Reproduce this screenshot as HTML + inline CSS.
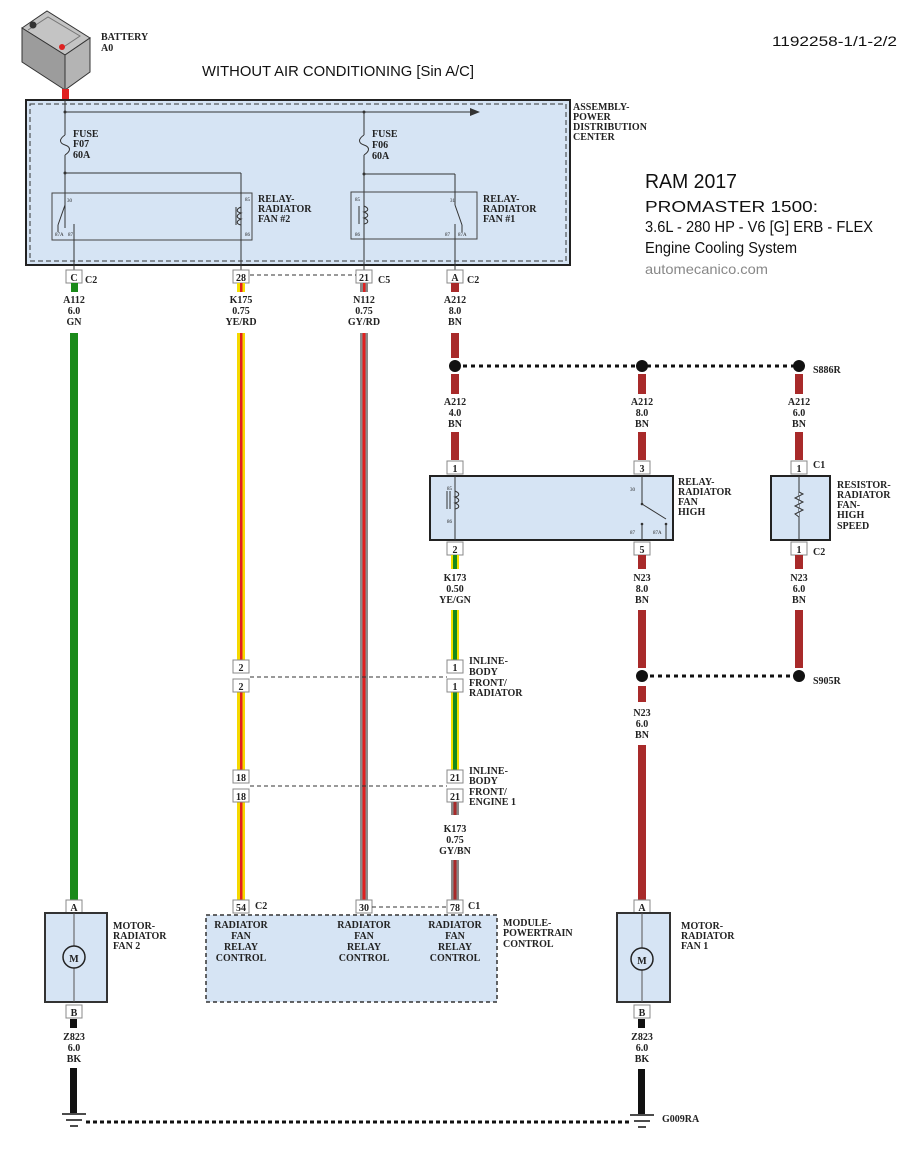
<!DOCTYPE html>
<html><head><meta charset="utf-8"><style>
body{margin:0;background:#fff;}
svg{display:block;}
.l{font-family:"Liberation Serif",serif;font-size:10px;font-weight:bold;fill:#222;}
.c{font-family:"Liberation Serif",serif;font-size:10px;font-weight:bold;fill:#222;text-anchor:middle;}
.s{font-family:"Liberation Serif",serif;font-size:5px;fill:#222;}
.h{font-family:"Liberation Sans",sans-serif;fill:#111;}
</style></head><body>
<svg width="910" height="1156" xmlns="http://www.w3.org/2000/svg">
<defs>
<g id="cn"><rect x="-8" y="0" width="16" height="13" fill="#fff" stroke="#888" stroke-width="1"/></g>
</defs>
<!-- battery -->
<polygon points="22,28 47,11 90,38 65,55" fill="#c4c4c4" stroke="#333"/>
<polygon points="22,28 65,55 65,90 22,62" fill="#9c9c9c" stroke="#333"/>
<polygon points="65,55 90,38 90,72 65,90" fill="#b4b4b4" stroke="#333"/>
<polyline points="28,30 48,17 80,36 62,48" fill="none" stroke="#777"/>
<circle cx="33" cy="25" r="3.5" fill="#333"/>
<circle cx="62" cy="47" r="3" fill="#d22"/>
<rect x="62" y="89" width="7" height="11" fill="#e02020"/>
<text x="101" y="40" class="l" font-size="9">BATTERY</text>
<text x="101" y="51" class="l" font-size="9">A0</text>
<text x="202" y="76" class="h" font-size="15" textLength="272" lengthAdjust="spacingAndGlyphs">WITHOUT AIR CONDITIONING [Sin A/C]</text>
<text x="772" y="46" class="h" font-size="14" textLength="125" lengthAdjust="spacingAndGlyphs">1192258-1/1-2/2</text>
<text x="645" y="188" class="h" font-size="20" textLength="92" lengthAdjust="spacingAndGlyphs">RAM 2017</text>
<text x="645" y="212" class="h" font-size="16" textLength="173" lengthAdjust="spacingAndGlyphs">PROMASTER 1500:</text>
<text x="645" y="232" class="h" font-size="16" textLength="228" lengthAdjust="spacingAndGlyphs">3.6L - 280 HP - V6 [G] ERB - FLEX</text>
<text x="645" y="253" class="h" font-size="16" textLength="152" lengthAdjust="spacingAndGlyphs">Engine Cooling System</text>
<text x="645" y="274" class="h" font-size="14" style="fill:#888" textLength="123" lengthAdjust="spacingAndGlyphs">automecanico.com</text>

<!-- PDC box -->
<rect x="26" y="100" width="544" height="165" fill="#d6e4f4" stroke="#222" stroke-width="2"/>
<rect x="30" y="104" width="536" height="157" fill="none" stroke="#333" stroke-dasharray="5,3"/>
<text x="573" y="110" class="l" font-size="9">ASSEMBLY-</text>
<text x="573" y="120" class="l" font-size="9">POWER</text>
<text x="573" y="130" class="l" font-size="9">DISTRIBUTION</text>
<text x="573" y="140" class="l" font-size="9">CENTER</text>
<line x1="65" y1="100" x2="65" y2="228" stroke="#333"/>
<line x1="65" y1="112" x2="472" y2="112" stroke="#333"/>
<polygon points="480,112 470,108 470,116" fill="#333"/>
<circle cx="65" cy="112" r="1.5" fill="#333"/><circle cx="364" cy="112" r="1.5" fill="#333"/>
<line x1="364" y1="112" x2="364" y2="270" stroke="#333"/>
<rect x="61" y="135" width="8" height="20" fill="#d6e4f4"/><path d="M65,135 c-6,4 -6,8 0,10 c6,2 6,6 0,10" fill="none" stroke="#333"/>
<rect x="360" y="135" width="8" height="20" fill="#d6e4f4"/><path d="M364,135 c-6,4 -6,8 0,10 c6,2 6,6 0,10" fill="none" stroke="#333"/>
<text x="73" y="137" class="l" font-size="9">FUSE</text><text x="73" y="147" class="l" font-size="9">F07</text><text x="73" y="158" class="l" font-size="9">60A</text>
<text x="372" y="137" class="l" font-size="9">FUSE</text><text x="372" y="148" class="l" font-size="9">F06</text><text x="372" y="159" class="l" font-size="9">60A</text>
<line x1="65" y1="173" x2="241" y2="173" stroke="#333"/>
<line x1="364" y1="174" x2="455" y2="174" stroke="#333"/>
<circle cx="65" cy="173" r="1.5" fill="#333"/><circle cx="364" cy="174" r="1.5" fill="#333"/>
<!-- relay 2 -->
<rect x="52" y="193" width="200" height="47" fill="none" stroke="#444"/>
<line x1="241" y1="173" x2="241" y2="270" stroke="#333"/>
<path d="M241,207 c-5,2 -5,5 0,6 c-5,2 -5,5 0,6 c-5,2 -5,5 0,6" fill="none" stroke="#333"/>
<line x1="236" y1="207" x2="236" y2="225" stroke="#333"/>
<line x1="65" y1="205" x2="58" y2="225" stroke="#333"/><line x1="58" y1="225" x2="58" y2="232" stroke="#333"/>
<line x1="74" y1="224" x2="74" y2="270" stroke="#333"/>
<text x="67" y="202" class="s">30</text><text x="55" y="236" class="s">87A</text><text x="68" y="236" class="s">87</text>
<text x="245" y="201" class="s">85</text><text x="245" y="236" class="s">86</text>
<text x="258" y="202" class="l" font-size="9">RELAY-</text><text x="258" y="212" class="l" font-size="9">RADIATOR</text><text x="258" y="222" class="l" font-size="9">FAN #2</text>
<!-- relay 1 -->
<rect x="351" y="192" width="126" height="47" fill="none" stroke="#444"/>
<line x1="455" y1="174" x2="455" y2="205" stroke="#333"/>
<path d="M364,206 c5,2 5,5 0,6 c5,2 5,5 0,6 c5,2 5,5 0,6" fill="none" stroke="#333"/>
<line x1="359" y1="206" x2="359" y2="224" stroke="#333"/>
<line x1="455" y1="205" x2="462" y2="225" stroke="#333"/><line x1="462" y1="225" x2="462" y2="232" stroke="#333"/>
<line x1="455" y1="224" x2="455" y2="270" stroke="#333"/>
<text x="355" y="201" class="s">85</text><text x="355" y="236" class="s">86</text>
<text x="450" y="202" class="s">31</text><text x="445" y="236" class="s">87</text><text x="458" y="236" class="s">87A</text>
<text x="483" y="202" class="l" font-size="9">RELAY-</text><text x="483" y="212" class="l" font-size="9">RADIATOR</text><text x="483" y="222" class="l" font-size="9">FAN #1</text>

<!-- top connectors -->
<use href="#cn" x="74" y="270"/><text x="74" y="281" class="c">C</text><text x="85" y="283" class="l">C2</text>
<use href="#cn" x="241" y="270"/><text x="241" y="281" class="c">28</text>
<use href="#cn" x="364" y="270"/><text x="364" y="281" class="c">21</text><text x="378" y="283" class="l">C5</text>
<use href="#cn" x="455" y="270"/><text x="455" y="281" class="c">A</text><text x="467" y="283" class="l">C2</text>
<line x1="250" y1="275" x2="356" y2="275" stroke="#333" stroke-dasharray="4,3"/>

<rect x="71" y="283" width="7" height="9" fill="#1a8a1a"/>
<rect x="237" y="283" width="8" height="9" fill="#f5e000"/><rect x="240" y="283" width="2.5" height="9" fill="#e02020"/>
<rect x="360" y="283" width="8" height="9" fill="#888"/><rect x="363" y="283" width="2.5" height="9" fill="#e02020"/>
<rect x="451" y="283" width="8" height="9" fill="#a82a2a"/>
<text x="74" y="303" class="c">A112</text><text x="74" y="314" class="c">6.0</text><text x="74" y="325" class="c">GN</text>
<text x="241" y="303" class="c">K175</text><text x="241" y="314" class="c">0.75</text><text x="241" y="325" class="c">YE/RD</text>
<text x="364" y="303" class="c">N112</text><text x="364" y="314" class="c">0.75</text><text x="364" y="325" class="c">GY/RD</text>
<text x="455" y="303" class="c">A212</text><text x="455" y="314" class="c">8.0</text><text x="455" y="325" class="c">BN</text>

<rect x="70" y="333" width="8" height="567" fill="#1a8a1a"/>
<g>
<rect x="237" y="333" width="8" height="327" fill="#f5d800"/><rect x="240" y="333" width="2.5" height="327" fill="#e02020"/>
<rect x="237" y="692" width="8" height="78" fill="#f5d800"/><rect x="240" y="692" width="2.5" height="78" fill="#e02020"/>
<rect x="237" y="802" width="8" height="98" fill="#f5d800"/><rect x="240" y="802" width="2.5" height="98" fill="#e02020"/>
</g>
<rect x="360" y="333" width="8" height="567" fill="#8a8a8a"/><rect x="362.5" y="333" width="3" height="567" fill="#e02020"/>

<rect x="451" y="333" width="8" height="25" fill="#a82a2a"/>
<rect x="451" y="374" width="8" height="20" fill="#a82a2a"/>
<rect x="451" y="432" width="8" height="28" fill="#a82a2a"/>
<rect x="638" y="374" width="8" height="20" fill="#a82a2a"/>
<rect x="638" y="432" width="8" height="28" fill="#a82a2a"/>
<rect x="795" y="374" width="8" height="20" fill="#a82a2a"/>
<rect x="795" y="432" width="8" height="28" fill="#a82a2a"/>
<line x1="455" y1="366" x2="799" y2="366" stroke="#111" stroke-width="3" stroke-dasharray="4,4"/>
<circle cx="455" cy="366" r="6" fill="#111"/><circle cx="642" cy="366" r="6" fill="#111"/><circle cx="799" cy="366" r="6" fill="#111"/>
<text x="813" y="373" class="l" font-size="9">S886R</text>
<text x="455" y="405" class="c">A212</text><text x="455" y="416" class="c">4.0</text><text x="455" y="427" class="c">BN</text>
<text x="642" y="405" class="c">A212</text><text x="642" y="416" class="c">8.0</text><text x="642" y="427" class="c">BN</text>
<text x="799" y="405" class="c">A212</text><text x="799" y="416" class="c">6.0</text><text x="799" y="427" class="c">BN</text>

<use href="#cn" x="455" y="461"/><text x="455" y="472" class="c">1</text>
<use href="#cn" x="642" y="461"/><text x="642" y="472" class="c">3</text>
<use href="#cn" x="799" y="461"/><text x="799" y="472" class="c">1</text><text x="813" y="468" class="l">C1</text>
<rect x="430" y="476" width="243" height="64" fill="#d6e4f4" stroke="#222" stroke-width="2"/>
<line x1="455" y1="476" x2="455" y2="540" stroke="#333"/>
<path d="M455,491 c5,2 5,5 0,6 c5,2 5,5 0,6 c5,2 5,5 0,6" fill="none" stroke="#333"/>
<line x1="450" y1="491" x2="450" y2="509" stroke="#333"/><line x1="447" y1="491" x2="447" y2="509" stroke="#333"/>
<text x="447" y="490" class="s">85</text><text x="447" y="523" class="s">86</text>
<line x1="642" y1="476" x2="642" y2="504" stroke="#333"/>
<line x1="642" y1="504" x2="666" y2="519" stroke="#333"/>
<circle cx="642" cy="504" r="1.3" fill="#333"/>
<line x1="642" y1="524" x2="642" y2="540" stroke="#333"/><circle cx="642" cy="524" r="1.3" fill="#333"/>
<line x1="666" y1="524" x2="666" y2="540" stroke="#333"/><circle cx="666" cy="524" r="1.3" fill="#333"/>
<text x="630" y="491" class="s">30</text><text x="630" y="534" class="s">87</text><text x="653" y="534" class="s">87A</text>
<text x="678" y="485" class="l" font-size="9">RELAY-</text><text x="678" y="495" class="l" font-size="9">RADIATOR</text><text x="678" y="505" class="l" font-size="9">FAN</text><text x="678" y="515" class="l" font-size="9">HIGH</text>
<rect x="771" y="476" width="59" height="64" fill="#d6e4f4" stroke="#222" stroke-width="2"/>
<line x1="799" y1="476" x2="799" y2="540" stroke="#333"/>
<polyline points="799,492 803,494 795,498 803,502 795,506 803,510 795,514 799,517" fill="#d6e4f4" stroke="#333"/>
<text x="837" y="488" class="l" font-size="9">RESISTOR-</text><text x="837" y="498" class="l" font-size="9">RADIATOR</text><text x="837" y="508" class="l" font-size="9">FAN-</text><text x="837" y="518" class="l" font-size="9">HIGH</text><text x="837" y="529" class="l" font-size="9">SPEED</text>

<use href="#cn" x="455" y="542"/><text x="455" y="553" class="c">2</text>
<use href="#cn" x="642" y="542"/><text x="642" y="553" class="c">5</text>
<use href="#cn" x="799" y="542"/><text x="799" y="553" class="c">1</text><text x="813" y="555" class="l">C2</text>
<rect x="451" y="555" width="8" height="14" fill="#f5e000"/><rect x="453" y="555" width="4" height="14" fill="#1a8a1a"/>
<rect x="638" y="555" width="8" height="14" fill="#a82a2a"/>
<rect x="795" y="555" width="8" height="14" fill="#a82a2a"/>
<text x="455" y="581" class="c">K173</text><text x="455" y="592" class="c">0.50</text><text x="455" y="603" class="c">YE/GN</text>
<text x="642" y="581" class="c">N23</text><text x="642" y="592" class="c">8.0</text><text x="642" y="603" class="c">BN</text>
<text x="799" y="581" class="c">N23</text><text x="799" y="592" class="c">6.0</text><text x="799" y="603" class="c">BN</text>
<rect x="451" y="610" width="8" height="50" fill="#f5e000"/><rect x="453" y="610" width="4" height="50" fill="#1a8a1a"/>
<rect x="451" y="692" width="8" height="78" fill="#f5e000"/><rect x="453" y="692" width="4" height="78" fill="#1a8a1a"/>
<rect x="638" y="610" width="8" height="58" fill="#a82a2a"/>
<rect x="795" y="610" width="8" height="58" fill="#a82a2a"/>
<line x1="642" y1="676" x2="799" y2="676" stroke="#111" stroke-width="3" stroke-dasharray="4,4"/>
<circle cx="642" cy="676" r="6" fill="#111"/><circle cx="799" cy="676" r="6" fill="#111"/>
<text x="813" y="684" class="l" font-size="9">S905R</text>
<rect x="638" y="686" width="8" height="16" fill="#a82a2a"/>
<text x="642" y="716" class="c">N23</text><text x="642" y="727" class="c">6.0</text><text x="642" y="738" class="c">BN</text>
<rect x="638" y="745" width="8" height="155" fill="#a82a2a"/>

<use href="#cn" x="241" y="660"/><text x="241" y="671" class="c">2</text>
<use href="#cn" x="241" y="679"/><text x="241" y="690" class="c">2</text>
<use href="#cn" x="455" y="660"/><text x="455" y="671" class="c">1</text>
<use href="#cn" x="455" y="679"/><text x="455" y="690" class="c">1</text>
<line x1="250" y1="677" x2="447" y2="677" stroke="#333" stroke-dasharray="4,3"/>
<text x="469" y="664" class="l" font-size="9">INLINE-</text><text x="469" y="675" class="l" font-size="9">BODY</text><text x="469" y="686" class="l" font-size="9">FRONT/</text><text x="469" y="696" class="l" font-size="9">RADIATOR</text>
<use href="#cn" x="241" y="770"/><text x="241" y="781" class="c">18</text>
<use href="#cn" x="241" y="789"/><text x="241" y="800" class="c">18</text>
<use href="#cn" x="455" y="770"/><text x="455" y="781" class="c">21</text>
<use href="#cn" x="455" y="789"/><text x="455" y="800" class="c">21</text>
<line x1="250" y1="786" x2="447" y2="786" stroke="#333" stroke-dasharray="4,3"/>
<text x="469" y="774" class="l" font-size="9">INLINE-</text><text x="469" y="784" class="l" font-size="9">BODY</text><text x="469" y="795" class="l" font-size="9">FRONT/</text><text x="469" y="805" class="l" font-size="9">ENGINE 1</text>
<rect x="451" y="802" width="8" height="13" fill="#888"/><rect x="453.5" y="802" width="3" height="13" fill="#a82a2a"/>
<text x="455" y="832" class="c">K173</text><text x="455" y="843" class="c">0.75</text><text x="455" y="854" class="c">GY/BN</text>
<rect x="451" y="860" width="8" height="40" fill="#888"/><rect x="453.5" y="860" width="3" height="40" fill="#a82a2a"/>

<rect x="206" y="915" width="291" height="87" fill="#d6e4f4" stroke="#333" stroke-width="1.5" stroke-dasharray="4,3"/>
<use href="#cn" x="241" y="900"/><text x="241" y="911" class="c">54</text><text x="255" y="909" class="l">C2</text>
<use href="#cn" x="364" y="900"/><text x="364" y="911" class="c">30</text>
<use href="#cn" x="455" y="900"/><text x="455" y="911" class="c">78</text><text x="468" y="909" class="l">C1</text>
<line x1="372" y1="907" x2="447" y2="907" stroke="#333" stroke-dasharray="4,3"/>
<text x="241" y="928" class="c">RADIATOR</text><text x="241" y="939" class="c">FAN</text><text x="241" y="950" class="c">RELAY</text><text x="241" y="961" class="c">CONTROL</text>
<text x="364" y="928" class="c">RADIATOR</text><text x="364" y="939" class="c">FAN</text><text x="364" y="950" class="c">RELAY</text><text x="364" y="961" class="c">CONTROL</text>
<text x="455" y="928" class="c">RADIATOR</text><text x="455" y="939" class="c">FAN</text><text x="455" y="950" class="c">RELAY</text><text x="455" y="961" class="c">CONTROL</text>
<text x="503" y="926" class="l" font-size="9">MODULE-</text><text x="503" y="936" class="l" font-size="9">POWERTRAIN</text><text x="503" y="947" class="l" font-size="9">CONTROL</text>

<use href="#cn" x="74" y="900"/><text x="74" y="911" class="c">A</text>
<rect x="45" y="913" width="62" height="89" fill="#d6e4f4" stroke="#333" stroke-width="2"/>
<line x1="74" y1="913" x2="74" y2="1002" stroke="#555"/>
<circle cx="74" cy="957" r="11" fill="#d6e4f4" stroke="#222" stroke-width="1.5"/><text x="74" y="962" class="c" font-size="13">M</text>
<text x="113" y="929" class="l" font-size="9">MOTOR-</text><text x="113" y="939" class="l" font-size="9">RADIATOR</text><text x="113" y="949" class="l" font-size="9">FAN 2</text>
<use href="#cn" x="74" y="1005"/><text x="74" y="1016" class="c">B</text>
<use href="#cn" x="642" y="900"/><text x="642" y="911" class="c">A</text>
<rect x="617" y="913" width="53" height="89" fill="#d6e4f4" stroke="#333" stroke-width="2"/>
<line x1="642" y1="913" x2="642" y2="1002" stroke="#555"/>
<circle cx="642" cy="959" r="11" fill="#d6e4f4" stroke="#222" stroke-width="1.5"/><text x="642" y="964" class="c" font-size="13">M</text>
<text x="681" y="929" class="l" font-size="9">MOTOR-</text><text x="681" y="939" class="l" font-size="9">RADIATOR</text><text x="681" y="949" class="l" font-size="9">FAN 1</text>
<use href="#cn" x="642" y="1005"/><text x="642" y="1016" class="c">B</text>

<rect x="70" y="1019" width="7" height="9" fill="#111"/>
<rect x="638" y="1019" width="7" height="9" fill="#111"/>
<text x="74" y="1040" class="c">Z823</text><text x="74" y="1051" class="c">6.0</text><text x="74" y="1062" class="c">BK</text>
<text x="642" y="1040" class="c">Z823</text><text x="642" y="1051" class="c">6.0</text><text x="642" y="1062" class="c">BK</text>
<rect x="70" y="1068" width="7" height="45" fill="#111"/>
<rect x="638" y="1069" width="7" height="45" fill="#111"/>
<line x1="62" y1="1114" x2="86" y2="1114" stroke="#111" stroke-width="1.5"/>
<line x1="66" y1="1120" x2="82" y2="1120" stroke="#111" stroke-width="1.5"/>
<line x1="70" y1="1126" x2="78" y2="1126" stroke="#111" stroke-width="1.5"/>
<line x1="630" y1="1115" x2="654" y2="1115" stroke="#111" stroke-width="1.5"/>
<line x1="634" y1="1121" x2="650" y2="1121" stroke="#111" stroke-width="1.5"/>
<line x1="638" y1="1127" x2="646" y2="1127" stroke="#111" stroke-width="1.5"/>
<line x1="86" y1="1122" x2="630" y2="1122" stroke="#111" stroke-width="3" stroke-dasharray="4,3"/>
<text x="662" y="1122" class="l" font-size="9">G009RA</text>
</svg>
</body></html>
